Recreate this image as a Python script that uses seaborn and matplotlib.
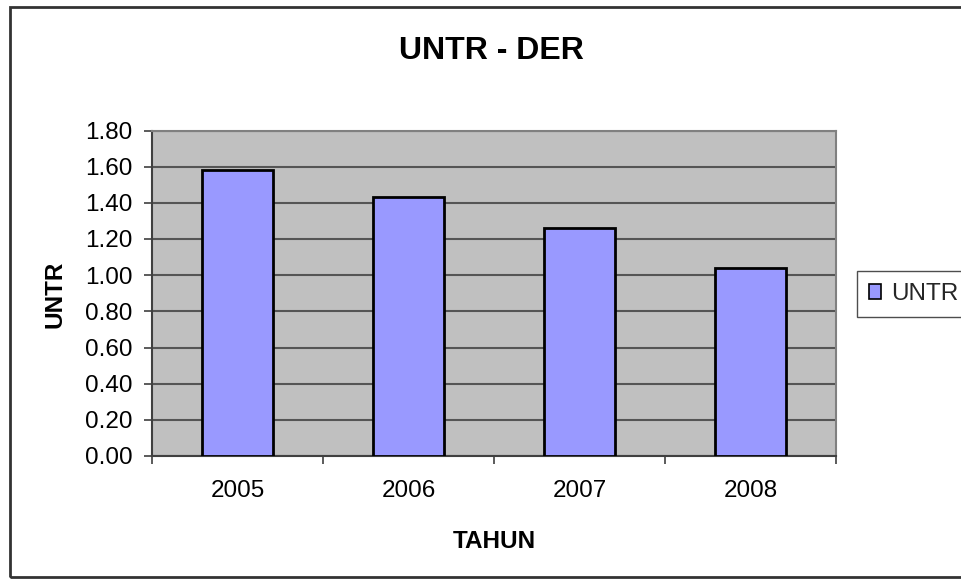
import matplotlib
matplotlib.use("Agg")
import matplotlib.pyplot as plt
import matplotlib.patches as mpatches
from matplotlib.ticker import FormatStrFormatter, FixedLocator
import seaborn as sns
import pandas as pd

tahun = ["2005", "2006", "2007", "2008"]
untr_der = [1.58, 1.43, 1.26, 1.04]

df = pd.DataFrame({"Tahun": tahun, "UNTR": untr_der})

sns.set_theme(style="white")
plt.rcParams["font.family"] = ["Liberation Sans", "DejaVu Sans"]

FS = 17.5
fig = plt.figure(figsize=(9.61, 5.83), dpi=100)
# plot area: x 152..836 px, y 130.5..456 px
ax = fig.add_axes([152 / 961, 1 - 456 / 583, 684 / 961, 325.5 / 583])
ax.set_facecolor("#C0C0C0")

sns.barplot(data=df, x="Tahun", y="UNTR", ax=ax, color="#9999FF", saturation=1,
            width=0.41, edgecolor="black", linewidth=2, zorder=3)

ax.set_ylim(0, 1.8)
ax.set_xlim(-0.5, 3.5)
ax.yaxis.set_major_locator(FixedLocator([i * 0.2 for i in range(10)]))
ax.yaxis.set_major_formatter(FormatStrFormatter("%.2f"))
ax.grid(axis="y", color="#555555", linewidth=1.5, zorder=1)
ax.set_axisbelow(True)

# x ticks sit between the categories, labels in the middle
ax.xaxis.set_minor_locator(FixedLocator([-0.5, 0.5, 1.5, 2.5, 3.5]))
ax.tick_params(axis="x", which="major", length=0, labelsize=FS, pad=17.5, colors="black")
ax.tick_params(axis="x", which="minor", length=6, width=1.2, color="#404040", direction="out")
ax.tick_params(axis="y", which="major", length=6, width=1.2, color="#404040",
               direction="out", labelsize=FS, pad=8, labelcolor="black")
ax.tick_params(bottom=True, left=True, which="both")

for side in ["left", "bottom"]:
    ax.spines[side].set_color("#404040")
    ax.spines[side].set_linewidth(1.5)
for side in ["top", "right"]:
    ax.spines[side].set_color("#808080")
    ax.spines[side].set_linewidth(1.5)

ax.set_xlabel("TAHUN", fontsize=FS, fontweight="bold", color="black", va="baseline")
ax.xaxis.set_label_coords(0.5, -(548 - 456) / 325.5)
ax.set_ylabel("UNTR", fontsize=FS, fontweight="bold", color="black")
ax.yaxis.set_label_coords((66.5 - 152) / 684, (456 - 294) / 325.5)

fig.text(491.5 / 961, 1 - 59 / 583, "UNTR - DER", ha="center", va="baseline",
         fontsize=23, fontweight="bold", color="black")

handle = mpatches.Patch(facecolor="#9999FF", edgecolor="black", linewidth=1.2, label="UNTR")
leg = fig.legend(handles=[handle], loc="upper left", bbox_to_anchor=(857 / 961, 1 - 271 / 583),
                 fontsize=FS, frameon=True, fancybox=False, handlelength=0.5,
                 handleheight=0.55, handletextpad=0.4, borderpad=0.5, borderaxespad=0)
leg.get_frame().set_edgecolor("#222222")
leg.get_frame().set_linewidth(1)

# outer chart border, cut off on the right like the original
border = mpatches.Rectangle((10 / 961, 6 / 583), 1.2, 1 - 13 / 583,
                            transform=fig.transFigure, fill=False,
                            edgecolor="#333333", linewidth=2)
fig.patches.append(border)

fig.savefig("out.png", dpi=100)
